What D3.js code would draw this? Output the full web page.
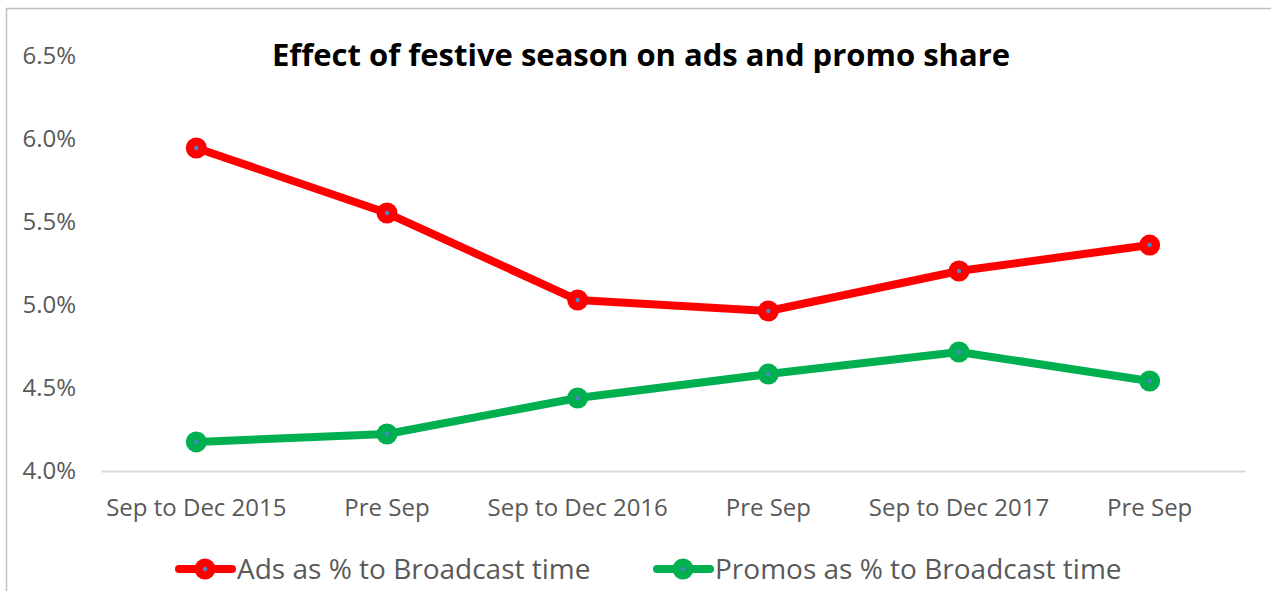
<!DOCTYPE html>
<html>
<head>
<meta charset="utf-8">
<script src="https://cdn.jsdelivr.net/npm/d3@7"></script>
<style>
  body { margin: 0; background: #fff; }
  svg text { font-family: "Open Sans", "DejaVu Sans", sans-serif; }
</style>
</head>
<body>
<svg id="chart" width="1271" height="591"></svg>
<script>
// ─── Daten ───────────────────────────────────────────────────────────────────
const periods   = ['Sep to Dec 2015', 'Pre Sep', 'Sep to Dec 2016', 'Pre Sep', 'Sep to Dec 2017', 'Pre Sep'];
const adsShare    = [5.946, 5.554, 5.03, 4.964, 5.205, 5.361];
const promosShare = [4.175, 4.223, 4.44, 4.584, 4.717, 4.542];
const yTicks    = [4.0, 4.5, 5.0, 5.5, 6.0, 6.5];
const seriesNames = ['Ads as % to Broadcast time', 'Promos as % to Broadcast time'];

const series = [
  { name: seriesNames[0], values: adsShare,    color: '#ff0000' },
  { name: seriesNames[1], values: promosShare, color: '#00b050' },
];

// ─── Layout ──────────────────────────────────────────────────────────────────
const svg = d3.select('#chart');

// Rahmen des Diagrammbereichs (rechts/unten ausserhalb des Bildes)
svg.append('rect')
  .attr('x', 6.5).attr('y', 8.5)
  .attr('width', 1400).attr('height', 800)
  .attr('fill', 'none')
  .attr('stroke', '#bfbfbf')
  .attr('stroke-width', 1.5);

const plot = { left: 101, right: 1245, top: 56, bottom: 471 };

const x = d3.scaleBand()
  .domain(d3.range(periods.length))
  .range([plot.left, plot.right]);

const y = d3.scaleLinear()
  .domain([4.0, 6.5])
  .range([plot.bottom, plot.top]);

const cx = i => x(i) + x.bandwidth() / 2;

// y-Achse (nur Beschriftungen)
const yAxis = svg.append('g')
  .attr('transform', `translate(${plot.left - 25},0)`)
  .call(d3.axisLeft(y).tickValues(yTicks).tickFormat(d => d.toFixed(1) + '%').tickSize(0).tickPadding(0));
yAxis.select('.domain').remove();
yAxis.selectAll('text')
  .attr('font-size', 24)
  .attr('fill', '#595959')
  .attr('font-family', '"Open Sans", sans-serif');

// x-Achse
const xAxis = svg.append('g')
  .attr('transform', `translate(0,${plot.bottom})`)
  .call(d3.axisBottom(x).tickFormat(i => periods[i]).tickSize(0).tickPadding(28));
xAxis.select('.domain')
  .attr('stroke', '#d9d9d9')
  .attr('stroke-width', 2);
xAxis.selectAll('text')
  .attr('font-size', 24)
  .attr('fill', '#595959')
  .attr('font-family', '"Open Sans", sans-serif');

// Titel
svg.append('text')
  .attr('x', 641)
  .attr('y', 66)
  .attr('text-anchor', 'middle')
  .attr('font-size', 31)
  .attr('font-weight', 'bold')
  .attr('fill', '#000')
  .text('Effect of festive season on ads and promo share');

// ─── Linien + Marker ─────────────────────────────────────────────────────────
const line = d3.line()
  .x((_d, i) => cx(i))
  .y(d => y(d));

series.forEach(s => {
  svg.append('path')
    .datum(s.values)
    .attr('d', line)
    .attr('fill', 'none')
    .attr('stroke', s.color)
    .attr('stroke-width', 8)
    .attr('stroke-linejoin', 'round');

  const g = svg.append('g');
  g.selectAll('circle.outer')
    .data(s.values)
    .enter()
    .append('circle')
    .attr('class', 'outer')
    .attr('cx', (_d, i) => cx(i))
    .attr('cy', d => y(d))
    .attr('r', 10.5)
    .attr('fill', s.color);
  g.selectAll('circle.inner')
    .data(s.values)
    .enter()
    .append('circle')
    .attr('class', 'inner')
    .attr('cx', (_d, i) => cx(i))
    .attr('cy', d => y(d))
    .attr('r', 2.2)
    .attr('fill', '#4a86c8');
});

// ─── Legende ─────────────────────────────────────────────────────────────────
const legendX = [177, 655];
const legend = svg.selectAll('g.legend')
  .data(series)
  .enter()
  .append('g')
  .attr('class', 'legend')
  .attr('transform', (_d, i) => `translate(${legendX[i]},569)`);

legend.append('line')
  .attr('x1', 2).attr('x2', 55)
  .attr('stroke', d => d.color)
  .attr('stroke-width', 8)
  .attr('stroke-linecap', 'round');
legend.append('circle')
  .attr('cx', 28).attr('r', 10.5)
  .attr('fill', d => d.color);
legend.append('circle')
  .attr('cx', 28).attr('r', 2.2)
  .attr('fill', '#4a86c8');
legend.append('text')
  .attr('x', 60)
  .attr('dy', '0.35em')
  .attr('font-size', 28)
  .attr('fill', '#595959')
  .text(d => d.name);
</script>
</body>
</html>
